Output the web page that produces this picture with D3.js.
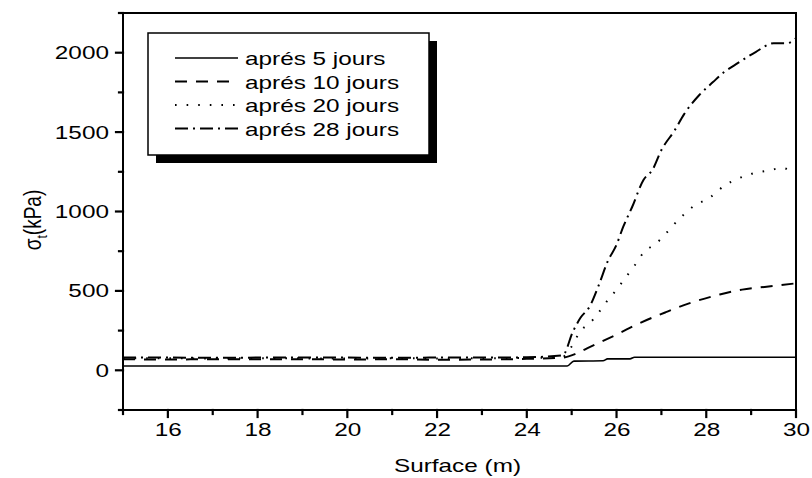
<!DOCTYPE html>
<html>
<head>
<meta charset="utf-8">
<script src="https://cdn.jsdelivr.net/npm/d3@7"></script>
<style>
  body { margin: 0; background: #fff; }
  svg { display: block; font-family: "Liberation Sans", Arial, sans-serif; }
</style>
</head>
<body>
<div id="chart"></div>
<script>
// Contrainte de traction σt le long de la surface, à différents âges

// Séries (x en m, y en kPa)
const x5  = [15, 24.9, 25.05, 25.7, 25.8, 26.3, 26.4, 30];
const y5  = [27, 27, 58, 60, 72, 72, 82, 82];

const x10 = [15, 16, 17, 18, 19, 20, 21, 22, 23, 24, 24.8, 25.1, 25.4, 25.7, 26.0, 26.5, 27.1, 27.6, 28.3, 28.8, 29.3, 29.95];
const y10 = [70, 68, 70, 69, 70, 68, 70, 66, 68, 72, 80, 105, 146, 185, 225, 295, 366, 420, 477, 508, 525, 546];

const x20 = [15, 16, 17, 18, 19, 20, 21, 22, 23, 24, 24.8, 25.0, 25.2, 25.4, 25.6, 25.8, 26.0, 26.2, 26.4, 26.6, 26.9, 27.4, 27.7, 28.1, 28.4, 28.7, 29.0, 29.35, 29.7, 29.8];
const y20 = [75, 76, 74, 76, 75, 74, 76, 75, 76, 78, 85, 150, 250, 295, 364, 440, 508, 584, 659, 740, 803, 954, 1030, 1092, 1162, 1206, 1237, 1256, 1274, 1268];

const x28 = [15, 16, 17, 18, 19, 20, 21, 22, 23, 24, 24.8, 25.03, 25.2, 25.4, 25.6, 25.8, 26.0, 26.15, 26.35, 26.6, 26.8, 27.0, 27.3, 27.5, 27.85, 28.15, 28.4, 28.7, 29.1, 29.5, 29.8, 30];
const y28 = [80, 80, 79, 80, 81, 80, 79, 80, 80, 82, 95, 245, 332, 401, 533, 684, 791, 904, 1030, 1199, 1262, 1387, 1513, 1610, 1735, 1815, 1878, 1934, 2004, 2060, 2060, 2091];

const legendLabels = ["aprés 5 jours", "aprés 10 jours", "aprés 20 jours", "aprés 28 jours"];
const xTicks = [16, 18, 20, 22, 24, 26, 28, 30];
const xMinorTicks = [15, 17, 19, 21, 23, 25, 27, 29];
const yTicks = [0, 500, 1000, 1500, 2000];
const yMinorTicks = [-250, 250, 750, 1250, 1750, 2250];

const seriesStyles = [
  { dash: null,         width: 1.6 },
  { dash: "12,9",       width: 2 },
  { dash: "1.6,10",     width: 2 },
  { dash: "13,5,2,5",   width: 2 }
];

const series = [
  { xs: x5,  ys: y5 },
  { xs: x10, ys: y10 },
  { xs: x20, ys: y20 },
  { xs: x28, ys: y28 }
].map((s, i) => ({
  label: legendLabels[i],
  style: seriesStyles[i],
  points: s.xs.map((x, j) => ({ x: x, y: s.ys[j] }))
}));

const width = 812;
const height = 478;
const plot = { left: 123, right: 796, top: 13, bottom: 410 };
const stretch = 1.28; // le texte de la figure est étiré horizontalement
const fontSize = "19px";
const majorLen = 7;
const minorLen = 4;

const x = d3.scaleLinear().domain([15, 30]).range([plot.left, plot.right]);
const y = d3.scaleLinear().domain([-250, 2250]).range([plot.bottom, plot.top]);

const svg = d3.select("#chart")
  .append("svg")
  .attr("width", width)
  .attr("height", height);

// Courbes
const line = d3.line()
  .x(d => x(d.x))
  .y(d => y(d.y))
  .curve(d3.curveMonotoneX);

svg.append("g")
  .selectAll("path")
  .data(series)
  .join("path")
  .attr("d", d => line(d.points))
  .attr("fill", "none")
  .attr("stroke", "#000")
  .attr("stroke-width", d => d.style.width)
  .attr("stroke-dasharray", d => d.style.dash);

// Cadre
svg.append("rect")
  .attr("x", plot.left)
  .attr("y", plot.top)
  .attr("width", plot.right - plot.left)
  .attr("height", plot.bottom - plot.top)
  .attr("fill", "none")
  .attr("stroke", "#000")
  .attr("stroke-width", 2);

// Graduations (vers l'extérieur)
const ticks = svg.append("g")
  .attr("stroke", "#000")
  .attr("stroke-width", 2.2)
  .attr("stroke-linecap", "square");

ticks.selectAll("line.xt")
  .data(xTicks.map(v => ({ v, len: majorLen })).concat(xMinorTicks.map(v => ({ v, len: minorLen }))))
  .join("line")
  .attr("class", "xt")
  .attr("x1", d => x(d.v))
  .attr("x2", d => x(d.v))
  .attr("y1", plot.bottom)
  .attr("y2", d => plot.bottom + d.len);

ticks.selectAll("line.yt")
  .data(yTicks.map(v => ({ v, len: majorLen })).concat(yMinorTicks.map(v => ({ v, len: minorLen }))))
  .join("line")
  .attr("class", "yt")
  .attr("x1", plot.left)
  .attr("x2", d => plot.left - d.len)
  .attr("y1", d => y(d.v))
  .attr("y2", d => y(d.v));

// Étiquettes des axes
svg.append("g")
  .attr("class", "axis")
  .attr("transform", `translate(0,${plot.bottom})`)
  .call(d3.axisBottom(x).tickValues(xTicks).tickSize(0).tickPadding(majorLen + 6));

svg.append("g")
  .attr("class", "axis")
  .attr("transform", `translate(${plot.left},0)`)
  .call(d3.axisLeft(y).tickValues(yTicks).tickSize(0).tickPadding(majorLen + 4).tickFormat(d3.format("d")));

svg.selectAll(".axis .domain").remove();
svg.selectAll(".axis .tick line").remove();

svg.selectAll(".axis text")
  .style("font-size", fontSize)
  .attr("fill", "#000")
  .attr("transform", `scale(${stretch},1)`);

// Titres des axes
svg.append("text")
  .attr("transform", `translate(${(plot.left + plot.right) / 2 - 2},${472}) scale(${stretch},1)`)
  .attr("text-anchor", "middle")
  .style("font-size", fontSize)
  .text("Surface (m)");

const yLabel = svg.append("text")
  .attr("transform", `translate(41,220) rotate(-90) scale(1,${stretch})`)
  .attr("text-anchor", "middle")
  .style("font-size", fontSize);
yLabel.append("tspan").text("σ");
yLabel.append("tspan").attr("dy", 5).style("font-size", "12px").text("t");
yLabel.append("tspan").attr("dy", -5).text("(kPa)");

// Légende avec ombre
const legend = { x: 148, y: 33, w: 281, h: 122, shadow: 8 };

svg.append("rect")
  .attr("x", legend.x + legend.shadow)
  .attr("y", legend.y + legend.shadow)
  .attr("width", legend.w)
  .attr("height", legend.h)
  .attr("fill", "#000");

svg.append("rect")
  .attr("x", legend.x)
  .attr("y", legend.y)
  .attr("width", legend.w)
  .attr("height", legend.h)
  .attr("fill", "#fff")
  .attr("stroke", "#000")
  .attr("stroke-width", 1.5);

const rows = svg.append("g")
  .selectAll("g")
  .data(series)
  .join("g")
  .attr("transform", (d, i) => `translate(0,${58 + i * 23.5})`);

rows.append("line")
  .attr("x1", 175)
  .attr("x2", 238)
  .attr("stroke", "#000")
  .attr("stroke-width", d => d.style.width)
  .attr("stroke-dasharray", d => d.style.dash);

rows.append("text")
  .attr("transform", `translate(245,7) scale(${stretch},1)`)
  .style("font-size", fontSize)
  .text(d => d.label);
</script>
</body>
</html>
